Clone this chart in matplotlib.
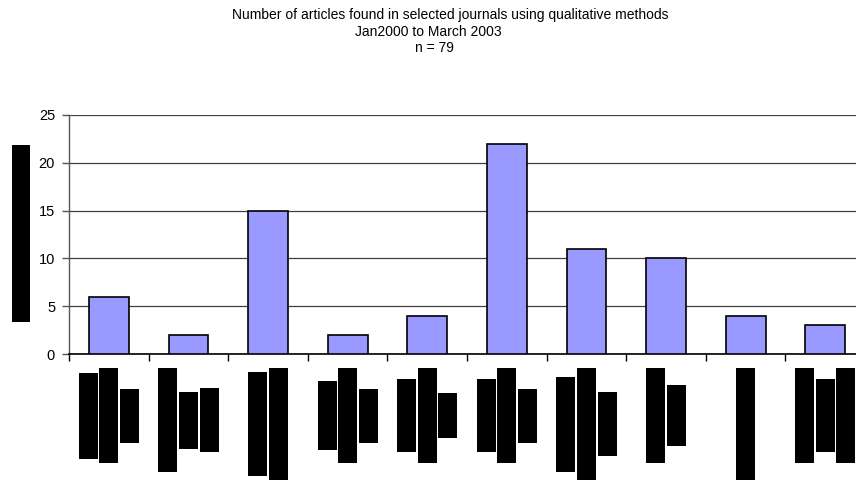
import matplotlib.pyplot as plt
import numpy as np
from matplotlib.patches import Rectangle

plt.rcParams['font.family'] = ['Liberation Sans', 'DejaVu Sans']

# article counts per journal
counts = [6, 2, 15, 2, 4, 22, 11, 10, 4, 3]
y_ticks = [0, 5, 10, 15, 20, 25]

title_lines = [
    "Number of articles found in selected journals using qualitative methods",
    "Jan2000 to March 2003",
    "n = 79",
]

# blacked-out journal names: length (px) of each rotated label line
label_lines = [
    [86, 95, 54],
    [104, 57, 64],
    [104, 112],
    [69, 95, 54],
    [73, 95, 45],
    [73, 95, 54],
    [95, 112, 64],
    [95, 61],
    [112],
    [95, 73, 95],
]

W, H = 856, 480
fig = plt.figure(figsize=(W / 100, H / 100), dpi=100)
ax = fig.add_axes([69 / W, 1 - 354 / H, (865 - 69) / W, (354 - 115) / H])

x = np.arange(len(counts))
ax.bar(x, counts, width=0.5, color='#9999ff', edgecolor='black', linewidth=1.2, zorder=3)

ax.set_xlim(-0.5, len(counts) - 0.5)
ax.set_ylim(0, 25)
ax.set_yticks(y_ticks)
ax.set_xticks(np.arange(len(counts) + 1) - 0.5)
ax.set_xticklabels([])
ax.tick_params(axis='x', direction='out', length=5, width=1, color='black')
ax.tick_params(axis='y', direction='out', length=5, width=1, color='#555555',
               labelsize=10.5, pad=5)

ax.yaxis.grid(True, color='#404040', linewidth=0.9, zorder=0)
ax.set_axisbelow(True)
for side in ['top', 'right']:
    ax.spines[side].set_visible(False)
ax.spines['left'].set_color('#555555')
ax.spines['left'].set_linewidth(1)
ax.spines['bottom'].set_color('black')
ax.spines['bottom'].set_linewidth(1.2)

# title lines: (centre x, baseline y) in pixels
title_pos = [(450, 19), (428, 36), (434, 52)]
for line, (tx, ty) in zip(title_lines, title_pos):
    fig.text(tx / W, 1 - ty / H, line, ha='center', va='baseline', fontsize=10)


def black_box(x0, top, w, h):
    fig.add_artist(Rectangle((x0 / W, 1 - (top + h) / H), w / W, h / H,
                             transform=fig.transFigure, facecolor='black',
                             edgecolor='none', clip_on=False))


# redacted category labels under each bar
fig.canvas.draw()
pitch, bw = 20.6, 19
for i, lines in enumerate(label_lines):
    cx = ax.transData.transform((x[i], 0))[0]
    longest = max(lines)
    left = cx - (len(lines) * pitch - (pitch - bw)) / 2
    for j, L in enumerate(lines):
        top = 368 + (longest - L) / 2
        black_box(left + j * pitch, top, bw, L)

# redacted y-axis title
black_box(12, 145, 18, 177)

fig.savefig('out.png', dpi=100)
